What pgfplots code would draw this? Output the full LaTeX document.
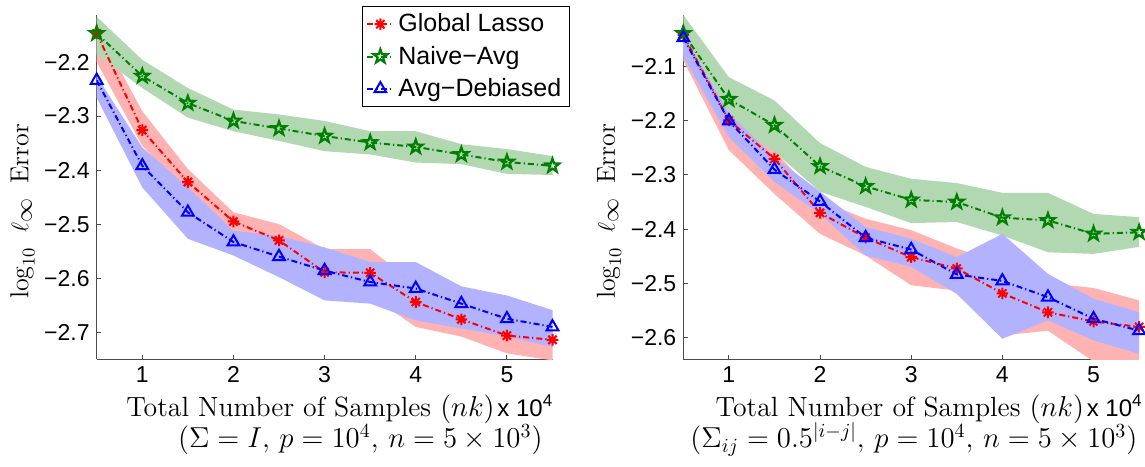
\documentclass[border=0pt]{standalone}
\usepackage{fontspec}
\newfontfamily\arialfont{Liberation Sans}
\usepackage{pgfplots}
\pgfplotsset{compat=1.18}
\usetikzlibrary{plotmarks}

\definecolor{mred}{RGB}{255,0,0}
\definecolor{mgreen}{RGB}{0,128,0}
\definecolor{mblue}{RGB}{0,0,255}
\definecolor{bandred}{RGB}{255,178,178}
\definecolor{bandgreen}{RGB}{178,216,178}
\definecolor{bandblue}{RGB}{178,178,255}

% open five-pointed star, like matlab's 'p'
\pgfdeclareplotmark{pentagram}{%
  \pgfpathmoveto{\pgfpointpolar{90}{\pgfplotmarksize}}%
  \pgfpathlineto{\pgfpointpolar{126}{0.40\pgfplotmarksize}}%
  \pgfpathlineto{\pgfpointpolar{162}{\pgfplotmarksize}}%
  \pgfpathlineto{\pgfpointpolar{198}{0.40\pgfplotmarksize}}%
  \pgfpathlineto{\pgfpointpolar{234}{\pgfplotmarksize}}%
  \pgfpathlineto{\pgfpointpolar{270}{0.40\pgfplotmarksize}}%
  \pgfpathlineto{\pgfpointpolar{306}{\pgfplotmarksize}}%
  \pgfpathlineto{\pgfpointpolar{342}{0.40\pgfplotmarksize}}%
  \pgfpathlineto{\pgfpointpolar{18}{\pgfplotmarksize}}%
  \pgfpathlineto{\pgfpointpolar{54}{0.40\pgfplotmarksize}}%
  \pgfpathclose
  \pgfusepathqstroke}
% matlab's '*': a plus and a cross on top of each other
\pgfdeclareplotmark{mstar}{%
  \pgfpathmoveto{\pgfqpoint{-\pgfplotmarksize}{0pt}}\pgfpathlineto{\pgfqpoint{\pgfplotmarksize}{0pt}}%
  \pgfpathmoveto{\pgfqpoint{0pt}{-\pgfplotmarksize}}\pgfpathlineto{\pgfqpoint{0pt}{\pgfplotmarksize}}%
  \pgfpathmoveto{\pgfpointpolar{45}{\pgfplotmarksize}}\pgfpathlineto{\pgfpointpolar{225}{\pgfplotmarksize}}%
  \pgfpathmoveto{\pgfpointpolar{135}{\pgfplotmarksize}}\pgfpathlineto{\pgfpointpolar{315}{\pgfplotmarksize}}%
  \pgfusepathqstroke}

\tikzset{
  xlabA/.style={font=\fontsize{13.9}{15}\selectfont, inner sep=0pt},
  xlabB/.style={font=\fontsize{14.4}{16}\selectfont, inner sep=0pt},
  xpowst/.style={font=\arialfont\fontsize{12}{13}\selectfont, inner sep=0pt},
}

\pgfplotsset{
  panel/.style={
    scale only axis, width=227.9pt, height=172.15pt,
    anchor=south west,
    xmin=0.5, xmax=5.5, xtick={1,2,3,4,5},
    axis x line*=bottom, axis y line*=left,
    axis line style={-, black!70, line width=0.5pt},
    tick align=inside, major tick length=2.2pt,
    tick style={black!70, line width=0.5pt},
    tick label style={font=\arialfont\fontsize{11.5}{13}\selectfont},
    /pgf/number format/assume math mode=true,
    clip mode=individual,
    ylabel style={at={(rel axis cs:-0.163,0.43)}, anchor=center,
      font=\fontsize{13}{15}\selectfont},
    legend image code/.code={%
      \draw[mark repeat=2, mark phase=2, #1] plot coordinates {(0pt,0pt) (6.5pt,0pt) (13pt,0pt)};},
  },
  band/.style={draw=none, fill=#1, forget plot},
  lasso/.style={mred, line width=1pt, dash pattern=on 3pt off 1.5pt on 0.6pt off 1.5pt,
    mark=mstar, mark size=2.9pt, mark options={solid, line width=1pt}},
  naive/.style={mgreen, line width=1pt, dash pattern=on 3pt off 1.5pt on 0.6pt off 1.5pt,
    mark=pentagram, mark size=3.6pt, mark options={solid, line width=1.1pt}},
  debias/.style={mblue, line width=1pt, dash pattern=on 3pt off 1.5pt on 0.6pt off 1.5pt,
    mark=triangle, mark size=3.4pt, mark options={solid, line width=1pt}},
}
\newcommand{\ylab}{$\log_{10}$\hspace{0.55em}$\ell_{\textstyle\infty}$\hspace{0.55em}Error}
\newcommand{\xpow}{x 10\raisebox{0.75ex}{\fontsize{8.5}{9}\selectfont 4}}

\begin{document}
\begin{tikzpicture}
% ---------- left: Sigma = I ----------
\begin{axis}[panel, at={(0pt,0pt)},
  ymin=-2.75, ymax=-2.113,
  ytick={-2.7,-2.6,-2.5,-2.4,-2.3,-2.2},
  yticklabels={−2.7,−2.6,−2.5,−2.4,−2.3,−2.2},
  ylabel={\ylab},
  legend style={at={(rel axis cs:1.038,1.026)}, anchor=north east,
    font=\arialfont\fontsize{12.5}{14}\selectfont, draw=black, line width=0.6pt,
    inner xsep=2pt, inner ysep=1.5pt, row sep=1.6pt},
  legend cell align=left,
]
\addplot[band=bandred] coordinates {
  (0.5,-2.135) (1,-2.291) (1.5,-2.398) (2,-2.478) (2.5,-2.500) (3,-2.546)
  (3.5,-2.546) (4,-2.612) (4.5,-2.645) (5,-2.680) (5.5,-2.695)
  (5.5,-2.752) (5,-2.739) (4.5,-2.708) (4,-2.690) (3.5,-2.632) (3,-2.620)
  (2.5,-2.560) (2,-2.512) (1.5,-2.445) (1,-2.355) (0.5,-2.200)} -- cycle;
\addplot[band=bandgreen] coordinates {
  (0.5,-2.116) (1,-2.196) (1.5,-2.248) (2,-2.288) (2.5,-2.297) (3,-2.309)
  (3.5,-2.328) (4,-2.328) (4.5,-2.352) (5,-2.361) (5.5,-2.374)
  (5.5,-2.409) (5,-2.407) (4.5,-2.389) (4,-2.386) (3.5,-2.371) (3,-2.365)
  (2.5,-2.346) (2,-2.328) (1.5,-2.303) (1,-2.248) (0.5,-2.186)} -- cycle;
\addplot[band=bandblue] coordinates {
  (0.5,-2.226) (1,-2.358) (1.5,-2.432) (2,-2.512) (2.5,-2.522) (3,-2.543)
  (3.5,-2.570) (4,-2.570) (4.5,-2.615) (5,-2.632) (5.5,-2.659)
  (5.5,-2.727) (5,-2.708) (4.5,-2.693) (4,-2.678) (3.5,-2.647) (3,-2.641)
  (2.5,-2.598) (2,-2.558) (1.5,-2.527) (1,-2.432) (0.5,-2.266)} -- cycle;
\addplot[lasso] coordinates {
  (0.5,-2.147) (1,-2.326) (1.5,-2.422) (2,-2.495) (2.5,-2.530) (3,-2.589)
  (3.5,-2.590) (4,-2.644) (4.5,-2.676) (5,-2.706) (5.5,-2.714)};
\addlegendentry{Global Lasso}
\addplot[naive] coordinates {
  (0.5,-2.147) (1,-2.226) (1.5,-2.276) (2,-2.309) (2.5,-2.323) (3,-2.337)
  (3.5,-2.349) (4,-2.357) (4.5,-2.371) (5,-2.385) (5.5,-2.392)};
\addlegendentry{Naive−Avg}
\addplot[debias] coordinates {
  (0.5,-2.234) (1,-2.392) (1.5,-2.478) (2,-2.533) (2.5,-2.560) (3,-2.586)
  (3.5,-2.607) (4,-2.619) (4.5,-2.647) (5,-2.675) (5.5,-2.690)};
\addlegendentry{Avg−Debiased}
\node[xlabA, anchor=base east] (t1) at (rel axis cs:0.874,-0.165) {Total Number of Samples $(nk)$};
\node[xpowst, anchor=base west] at ([xshift=1pt]t1.base east) {\xpow};
\node[xlabB, anchor=base east] at (rel axis cs:0.979,-0.257)
  {$(\Sigma = I,\, p = 10^4,\, n = 5\times 10^3)$};
\end{axis}

% ---------- right: Sigma_ij = 0.5^|i-j| ----------
\begin{axis}[panel, at={(293.3pt,0pt)},
  ymin=-2.641, ymax=-2.004,
  ytick={-2.6,-2.5,-2.4,-2.3,-2.2,-2.1},
  yticklabels={−2.6,−2.5,−2.4,−2.3,−2.2,−2.1},
  ylabel={\ylab},
]
\addplot[band=bandred] coordinates {
  (0.5,-2.035) (1,-2.190) (1.5,-2.255) (2,-2.347) (2.5,-2.381) (3,-2.402)
  (3.5,-2.436) (4,-2.465) (4.5,-2.500) (5,-2.509) (5.5,-2.532)
  (5.5,-2.650) (5,-2.645) (4.5,-2.588) (4,-2.597) (3.5,-2.514) (3,-2.504)
  (2.5,-2.449) (2,-2.409) (1.5,-2.335) (1,-2.254) (0.5,-2.088)} -- cycle;
\addplot[band=bandgreen] coordinates {
  (0.5,-2.004) (1,-2.119) (1.5,-2.162) (2,-2.241) (2.5,-2.285) (3,-2.307)
  (3.5,-2.315) (4,-2.333) (4.5,-2.333) (5,-2.372) (5.5,-2.378)
  (5.5,-2.433) (5,-2.446) (4.5,-2.443) (4,-2.412) (3.5,-2.387) (3,-2.389)
  (2.5,-2.359) (2,-2.331) (1.5,-2.257) (1,-2.199) (0.5,-2.075)} -- cycle;
\addplot[band=bandblue] coordinates {
  (0.5,-2.041) (1,-2.186) (1.5,-2.267) (2,-2.331) (2.5,-2.396) (3,-2.418)
  (3.5,-2.452) (4,-2.409) (4.5,-2.483) (5,-2.529) (5.5,-2.554)
  (5.5,-2.631) (5,-2.606) (4.5,-2.569) (4,-2.603) (3.5,-2.520) (3,-2.470)
  (2.5,-2.449) (2,-2.372) (1.5,-2.313) (1,-2.230) (0.5,-2.081)} -- cycle;
\addplot[lasso] coordinates {
  (0.5,-2.041) (1,-2.199) (1.5,-2.270) (2,-2.370) (2.5,-2.416) (3,-2.452)
  (3.5,-2.473) (4,-2.519) (4.5,-2.554) (5,-2.571) (5.5,-2.581)};
\addplot[naive] coordinates {
  (0.5,-2.038) (1,-2.160) (1.5,-2.208) (2,-2.284) (2.5,-2.321) (3,-2.346)
  (3.5,-2.350) (4,-2.379) (4.5,-2.384) (5,-2.409) (5.5,-2.406)};
\addplot[debias] coordinates {
  (0.5,-2.046) (1,-2.200) (1.5,-2.290) (2,-2.349) (2.5,-2.416) (3,-2.438)
  (3.5,-2.484) (4,-2.496) (4.5,-2.526) (5,-2.566) (5.5,-2.588)};
\node[xlabA, anchor=base east] (t2) at (rel axis cs:0.88,-0.165) {Total Number of Samples $(nk)$};
\node[xpowst, anchor=base west] at ([xshift=1pt]t2.base east) {\xpow};
\node[xlabB, anchor=base east] at (rel axis cs:0.997,-0.257)
  {$(\Sigma_{ij} = 0.5^{|i-j|},\, p = 10^4,\, n = 5\times 10^3)$};
\end{axis}

\pgfresetboundingbox
\path[use as bounding box] (-48.35pt,-53.35pt) rectangle (524.15pt,179.65pt);
\end{tikzpicture}
\end{document}
